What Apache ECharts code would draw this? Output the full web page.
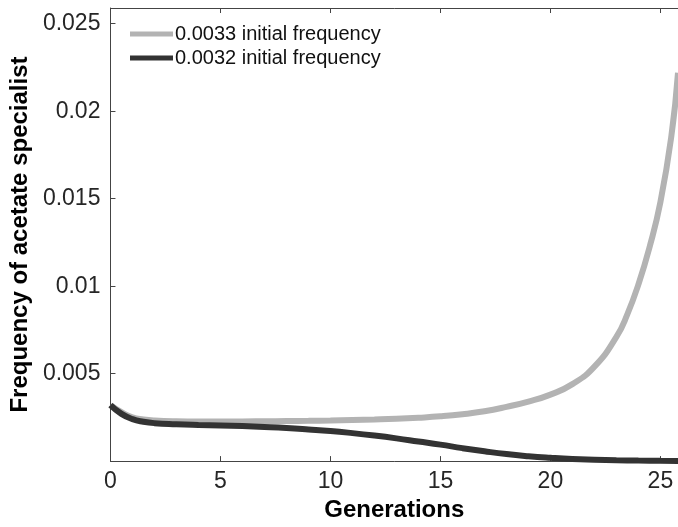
<!DOCTYPE html>
<html>
<head>
<meta charset="utf-8">
<script src="https://cdn.jsdelivr.net/npm/echarts@6/dist/echarts.min.js"></script>
<style>
  html, body { margin: 0; padding: 0; background: #fff; }
  #main { width: 678px; height: 527px; }
</style>
</head>
<body>
<div id="main"></div>
<script>
  //data
  var genHigh = [0, 0.5, 1, 1.5, 2, 3, 4, 5, 6, 7, 8, 9, 10, 11, 12, 13, 14, 15, 16, 17, 18, 19, 20, 21, 22, 23, 23.5, 24, 24.5, 25, 25.5, 25.8];
  var freqHigh = [0.0032, 0.0028, 0.0025, 0.00238, 0.00232, 0.00228, 0.00227, 0.00227, 0.00227, 0.00228, 0.00229, 0.0023, 0.00232, 0.00235, 0.00238, 0.00242, 0.00248, 0.00256, 0.00268, 0.00285, 0.0031, 0.0034, 0.0038, 0.0044, 0.0054, 0.0071, 0.0084, 0.0101, 0.0122, 0.0148, 0.0186, 0.0222];
  var genLow = [0, 0.5, 1, 1.5, 2, 3, 4, 5, 6, 7, 8, 9, 10, 11, 12, 13, 14, 15, 16, 17, 18, 19, 20, 21, 22, 23, 24, 25, 25.8];
  var freqLow = [0.0032, 0.0027, 0.0024, 0.00225, 0.00217, 0.00211, 0.00207, 0.00204, 0.002, 0.00195, 0.00189, 0.00181, 0.00172, 0.0016, 0.00146, 0.0013, 0.00112, 0.00094, 0.00074, 0.00056, 0.0004, 0.00028, 0.00019, 0.00012, 0.00008, 0.00005, 0.00003, 0.00002, 0.00001];
  var seriesNames = ['0.0033 initial frequency', '0.0032 initial frequency'];
  var xTicks = [0, 5, 10, 15, 20, 25];
  var yTicks = [0.005, 0.01, 0.015, 0.02, 0.025];

  function pairs(xs, ys) {
    return xs.map(function (x, i) { return [x, ys[i]]; });
  }

  var font = '"Liberation Sans", Arial, sans-serif';
  var myChart = echarts.init(document.getElementById('main'));
  var options = {
    animation: false,
    backgroundColor: '#fff',
    grid: { left: 110, right: 0, top: 8, bottom: 64 },
    legend: {
      left: 125,
      top: 19,
      orient: 'vertical',
      icon: 'rect',
      itemWidth: 43,
      itemHeight: 5,
      itemGap: 4,
      textStyle: { fontFamily: font, fontSize: 20, color: '#111', padding: [0, 0, 0, -3] },
      data: seriesNames
    },
    xAxis: [{
      type: 'value',
      min: 0,
      max: 25.8,
      interval: 5,
      name: 'Generations',
      nameLocation: 'middle',
      nameGap: 36,
      nameTextStyle: { fontFamily: font, fontSize: 24, fontWeight: 'bold', color: '#000' },
      axisLine: { lineStyle: { color: '#444', width: 1 } },
      axisTick: { inside: true, length: 5, lineStyle: { color: '#444' } },
      axisLabel: {
        margin: 9, fontFamily: font, fontSize: 23, color: '#262626', showMaxLabel: false,
        formatter: function (v) { return xTicks.indexOf(v) >= 0 ? String(v) : ''; }
      },
      splitLine: { show: false }
    }, {
      type: 'value',
      position: 'top',
      min: 0,
      max: 25.8,
      interval: 5,
      axisLine: { show: true, onZero: false, lineStyle: { color: '#444', width: 1 } },
      axisTick: { show: true, inside: true, length: 5, lineStyle: { color: '#444' } },
      axisLabel: { show: false },
      splitLine: { show: false }
    }],
    yAxis: [{
      type: 'value',
      min: 0,
      max: 0.0259,
      interval: 0.005,
      name: 'Frequency of acetate specialist',
      nameLocation: 'middle',
      nameGap: 74,
      nameTextStyle: { fontFamily: font, fontSize: 24, fontWeight: 'bold', color: '#000' },
      axisLine: { show: true, lineStyle: { color: '#444', width: 1 } },
      axisTick: { show: true, inside: true, length: 5, lineStyle: { color: '#444' } },
      axisLabel: {
        margin: 10, fontFamily: font, fontSize: 23, color: '#262626', showMaxLabel: false,
        formatter: function (v) {
          for (var i = 0; i < yTicks.length; i++) {
            if (Math.abs(yTicks[i] - v) < 1e-9) return String(yTicks[i]);
          }
          return '';
        }
      },
      splitLine: { show: false }
    }],
    series: [{
      name: seriesNames[0],
      type: 'line',
      smooth: true,
      showSymbol: false,
      color: '#b3b3b3',
      lineStyle: { width: 6, color: '#b3b3b3' },
      data: pairs(genHigh, freqHigh)
    }, {
      name: seriesNames[1],
      type: 'line',
      smooth: true,
      showSymbol: false,
      color: '#333333',
      lineStyle: { width: 6, color: '#333333' },
      data: pairs(genLow, freqLow)
    }]
  };
  myChart.setOption(options);
</script>
</body>
</html>
